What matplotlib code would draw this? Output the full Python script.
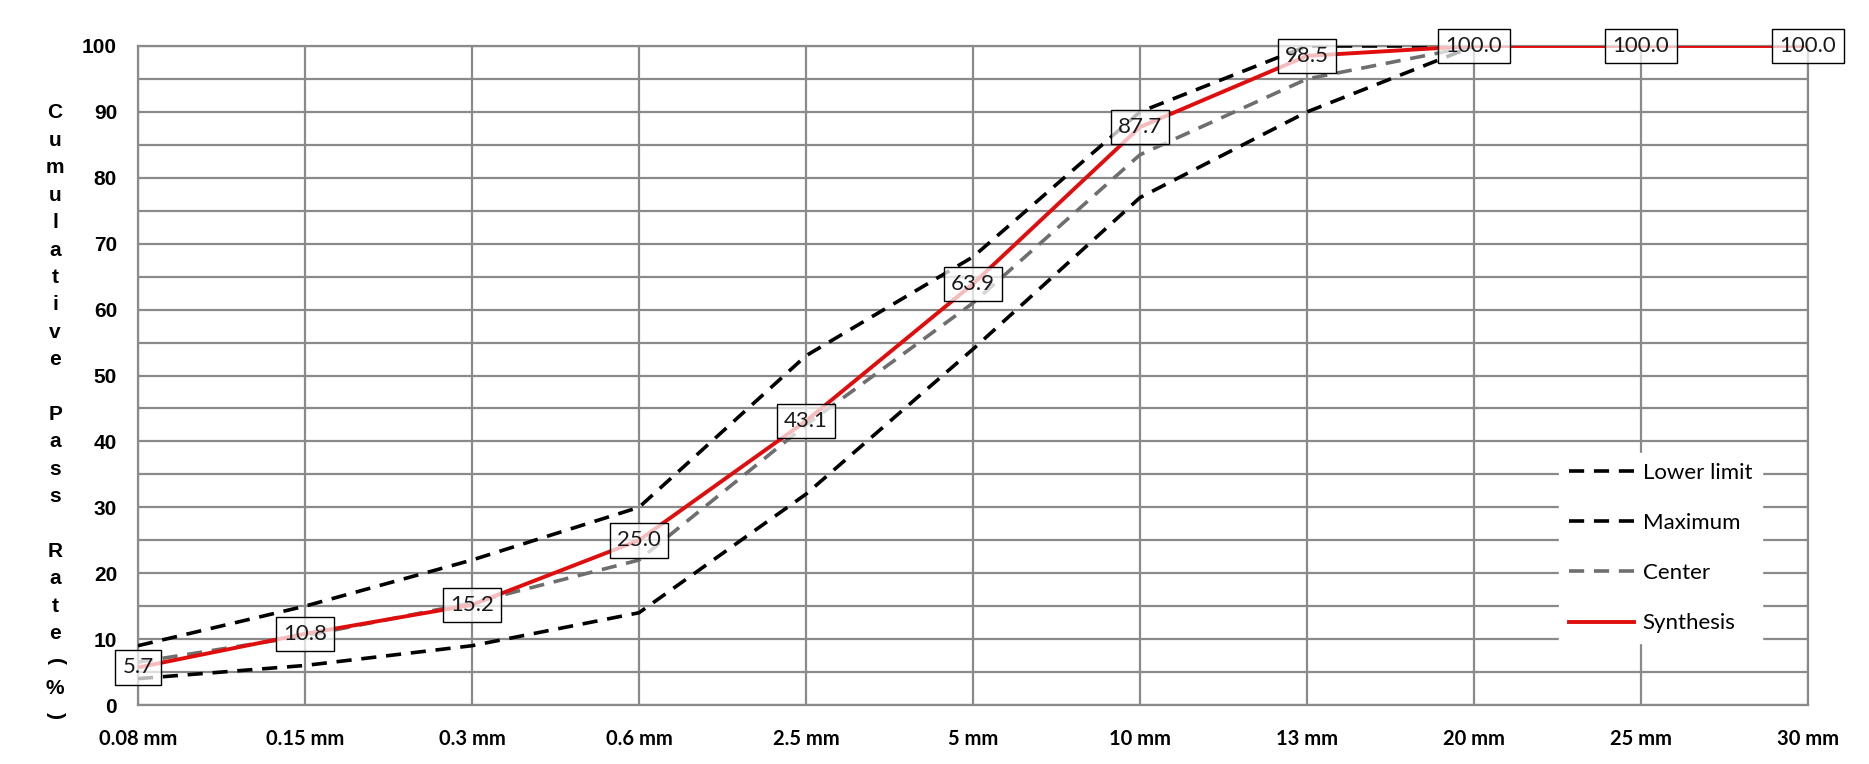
import matplotlib
matplotlib.use('Agg')
import matplotlib.pyplot as plt
import numpy as np

# sieve sizes on the x axis
sieves = ['0.08 mm', '0.15 mm', '0.3 mm', '0.6 mm', '2.5 mm', '5 mm',
          '10 mm', '13 mm', '20 mm', '25 mm', '30 mm']

# grading limits (given up to 20 mm)
lower_limit = [4, 6, 9, 14, 32, 54, 77, 90, 100]
maximum = [9, 15, 22, 30, 53, 68, 90, 100, 100]
center = [6.5, 10.5, 15.5, 22, 42.5, 61, 83.5, 95, 100]

# synthesized grading
synthesis = [5.7, 10.8, 15.2, 25.0, 43.1, 63.9, 87.7, 98.5, 100.0, 100.0, 100.0]

yticks = [0, 10, 20, 30, 40, 50, 60, 70, 80, 90, 100]
ylabel = 'Cumulative Pass Rate(%)'

grid_c = '#8a8a8a'

fig = plt.figure(figsize=(18.69, 7.64), dpi=100)
ax = fig.add_axes([0.0738, 0.0772, 0.8936, 0.8626])

x_lim = np.arange(len(lower_limit))
x_all = np.arange(len(sieves))

dash = (0, (4.2, 2.7))
ax.plot(x_lim, lower_limit, color='black', lw=2.6, linestyle=dash, label='Lower limit', zorder=3)
ax.plot(x_lim, maximum, color='black', lw=2.6, linestyle=dash, label='Maximum', zorder=3)
ax.plot(x_lim, center, color='#6e6e6e', lw=2.6, linestyle=dash, label='Center', zorder=3)
ax.plot(x_all, synthesis, color='#e00d0d', lw=2.8, label='Synthesis', zorder=4)

for xi, v in zip(x_all, synthesis):
    ax.text(xi, v, '%.1f' % v, ha='center', va='center', fontsize=16,
            family='Lato', color='#1a1a1a', zorder=6,
            bbox=dict(boxstyle='square,pad=0.33', facecolor=(1, 1, 1, 0.72),
                      edgecolor='black', linewidth=1.0))

ax.set_xlim(0, len(sieves) - 1)
ax.set_ylim(0, 100)
ax.set_xticks(x_all)
ax.set_xticklabels(sieves, fontsize=14.5, fontweight='bold', family='Lato')
ax.set_yticks(yticks)
ax.set_yticklabels([str(t) for t in yticks], fontsize=15, fontweight='bold',
                   family='Liberation Sans')
ax.set_yticks(np.arange(5, 100, 10), minor=True)
ax.tick_params(axis='both', which='both', length=0)
ax.tick_params(axis='x', pad=17)
ax.tick_params(axis='y', pad=15)

ax.grid(True, which='both', color=grid_c, lw=1.6, zorder=1)
ax.set_axisbelow(True)
for s in ax.spines.values():
    s.set_color(grid_c)
    s.set_linewidth(1.6)

leg = ax.legend(loc='upper left', bbox_to_anchor=(0.851, 0.383), borderaxespad=0,
                frameon=True, fancybox=False, framealpha=1, edgecolor='white',
                prop={'family': 'Lato', 'size': 16}, handlelength=2.9,
                labelspacing=1.36, borderpad=0.45, handletextpad=0.4)
leg.set_zorder(5)

# vertical stacked y label
y0, step = 1 - 113 / 764, 27.4 / 764
for i, ch in enumerate(ylabel):
    if ch == ' ':
        continue
    rot = -90 if ch in '()' else 0
    fig.text(0.0295, y0 - i * step, ch, ha='center', va='center', rotation=rot,
             fontsize=15, fontweight='bold', family='Liberation Sans')

fig.savefig('out.png', dpi=100)
